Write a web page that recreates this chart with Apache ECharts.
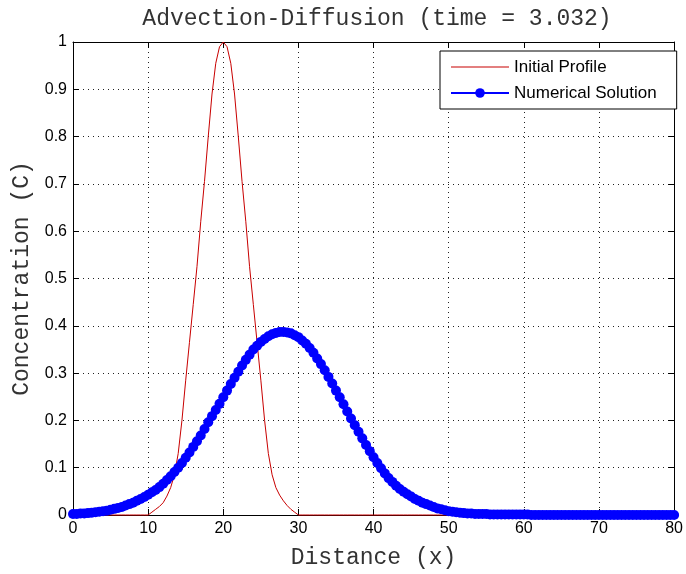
<!DOCTYPE html>
<html>
<head>
<meta charset="utf-8">
<title>Advection-Diffusion</title>
<script src="https://cdn.jsdelivr.net/npm/echarts/dist/echarts.min.js"></script>
<style>
    html, body {margin: 0; padding: 0; background: #fff;}
    #main {width: 686px; height: 574px;}
</style>
</head>
<body>
<div id="main"></div>
<script>
// grid spacing of the solution (x = 0 .. 80)
var dx = 0.5;

// initial profile, one value per grid point
var initProfile = [
    0, 0, 0, 0, 0, 0, 0, 0, 0, 0,
    0, 0, 0, 0, 0, 0, 0, 0, 0, 0,
    0, 0.006, 0.012, 0.018, 0.026, 0.040, 0.058, 0.085, 0.130, 0.200,
    0.285, 0.365, 0.445, 0.525, 0.620, 0.705, 0.800, 0.890, 0.955, 0.990,
    1.000, 0.990, 0.955, 0.890, 0.800, 0.705, 0.620, 0.525, 0.445, 0.365,
    0.285, 0.200, 0.130, 0.085, 0.058, 0.042, 0.030, 0.020, 0.012, 0.006,
    0, 0, 0, 0, 0, 0, 0, 0, 0, 0,
    0, 0, 0, 0, 0, 0, 0, 0, 0, 0,
    0, 0, 0, 0, 0, 0, 0, 0, 0, 0,
    0, 0, 0, 0, 0, 0, 0, 0, 0, 0,
    0, 0, 0, 0, 0, 0, 0, 0, 0, 0,
    0, 0, 0, 0, 0, 0, 0, 0, 0, 0,
    0, 0, 0, 0, 0, 0, 0, 0, 0, 0,
    0, 0, 0, 0, 0, 0, 0, 0, 0, 0,
    0, 0, 0, 0, 0, 0, 0, 0, 0, 0,
    0, 0, 0, 0, 0, 0, 0, 0, 0, 0,
    0
];

// numerical solution at time = 3.032
var numSolution = [
    0.002, 0.002, 0.003, 0.003, 0.004, 0.005, 0.006, 0.007, 0.008, 0.009,
    0.011, 0.013, 0.015, 0.017, 0.020, 0.023, 0.026, 0.030, 0.034, 0.038,
    0.043, 0.048, 0.053, 0.059, 0.066, 0.074, 0.082, 0.091, 0.100, 0.110,
    0.121, 0.132, 0.144, 0.156, 0.168, 0.182, 0.196, 0.209, 0.222, 0.235,
    0.249, 0.263, 0.277, 0.290, 0.303, 0.316, 0.328, 0.339, 0.350, 0.358,
    0.366, 0.372, 0.378, 0.382, 0.385, 0.387, 0.387, 0.386, 0.384, 0.380,
    0.376, 0.369, 0.362, 0.353, 0.343, 0.331, 0.319, 0.306, 0.292, 0.278,
    0.263, 0.249, 0.234, 0.219, 0.204, 0.190, 0.176, 0.162, 0.148, 0.135,
    0.122, 0.110, 0.099, 0.088, 0.078, 0.070, 0.062, 0.055, 0.049, 0.044,
    0.039, 0.034, 0.030, 0.026, 0.023, 0.020, 0.017, 0.014, 0.012, 0.010,
    0.008, 0.007, 0.006, 0.005, 0.004, 0.003, 0.003, 0.002, 0.002, 0.002,
    0.002, 0.001, 0.001, 0.001, 0.001, 0.001, 0.001, 0.001, 0.001, 0.001,
    0.001, 0.001, 0, 0, 0, 0, 0, 0, 0, 0,
    0, 0, 0, 0, 0, 0, 0, 0, 0, 0,
    0, 0, 0, 0, 0, 0, 0, 0, 0, 0,
    0, 0, 0, 0, 0, 0, 0, 0, 0, 0,
    0
];

var xTicks = {min: 0, max: 80, interval: 10};
var yTicks = {min: 0, max: 1, interval: 0.1};

function toPairs(values) {
    var out = [];
    for (var i = 0; i < values.length; i++) {
        out.push([i * dx, values[i]]);
    }
    return out;
}

var monoFont = "'Courier New', 'Liberation Mono', monospace";
var sansFont = "'Liberation Sans', Arial, sans-serif";

var chart = echarts.init(document.getElementById('main'), null, {renderer: 'canvas'});

var gridLine = {show: true, lineStyle: {color: '#222', type: [1, 4], width: 1}};
var frameLine = {show: true, onZero: false, lineStyle: {color: '#000', width: 1}};
var innerTick = {show: true, inside: true, length: 6, lineStyle: {color: '#000'}};

chart.setOption({
    animation: false,
    backgroundColor: '#fff',
    title: {
        text: 'Advection-Diffusion (time = 3.032)',
        left: 377,
        top: 7,
        padding: 0,
        textAlign: 'center',
        textStyle: {fontFamily: monoFont, fontSize: 23, fontWeight: 'normal', color: '#333'}
    },
    legend: {
        orient: 'vertical',
        left: 440,
        top: 51,
        padding: [7, 20, 7, 10],
        itemWidth: 58,
        itemHeight: 12,
        itemGap: 8,
        backgroundColor: '#fff',
        borderColor: '#000',
        borderWidth: 1,
        borderRadius: 0,
        textStyle: {fontFamily: sansFont, fontSize: 17, color: '#000', lineHeight: 18},
        data: [
            // plain line sample, no marker
            {name: 'Initial Profile', icon: 'path://M0,0H58V1.2H0Z'},
            'Numerical Solution'
        ]
    },
    grid: {left: 73, right: 6, top: 42, bottom: 57},
    xAxis: [{
        type: 'value',
        min: xTicks.min, max: xTicks.max, interval: xTicks.interval,
        name: 'Distance (x)',
        nameLocation: 'middle',
        nameGap: 31,
        nameTextStyle: {fontFamily: monoFont, fontSize: 23, color: '#333'},
        axisLine: frameLine,
        axisTick: innerTick,
        axisLabel: {margin: 6, fontFamily: sansFont, fontSize: 16, color: '#000'},
        splitLine: gridLine
    }, {
        type: 'value',
        position: 'top',
        min: xTicks.min, max: xTicks.max, interval: xTicks.interval,
        axisLine: frameLine,
        axisTick: innerTick,
        axisLabel: {show: false},
        splitLine: {show: false}
    }],
    yAxis: [{
        type: 'value',
        min: yTicks.min, max: yTicks.max, interval: yTicks.interval,
        name: 'Concentration (C)',
        nameLocation: 'middle',
        nameGap: 38,
        nameTextStyle: {fontFamily: monoFont, fontSize: 23, color: '#333'},
        axisLine: frameLine,
        axisTick: innerTick,
        axisLabel: {margin: 6, fontFamily: sansFont, fontSize: 16, color: '#000'},
        splitLine: gridLine
    }, {
        type: 'value',
        position: 'right',
        min: yTicks.min, max: yTicks.max, interval: yTicks.interval,
        axisLine: frameLine,
        axisTick: innerTick,
        axisLabel: {show: false},
        splitLine: {show: false}
    }],
    series: [{
        name: 'Initial Profile',
        type: 'line',
        data: toPairs(initProfile),
        symbol: 'none',
        clip: false,
        z: 2,
        lineStyle: {color: '#c80000', width: 1},
        itemStyle: {color: '#c80000'}
    }, {
        name: 'Numerical Solution',
        type: 'line',
        data: toPairs(numSolution),
        symbol: 'circle',
        symbolSize: 10,
        showAllSymbol: true,
        clip: false,
        z: 3,
        lineStyle: {color: '#0000ff', width: 1},
        itemStyle: {color: '#0000ff'}
    }]
});
</script>
</body>
</html>
